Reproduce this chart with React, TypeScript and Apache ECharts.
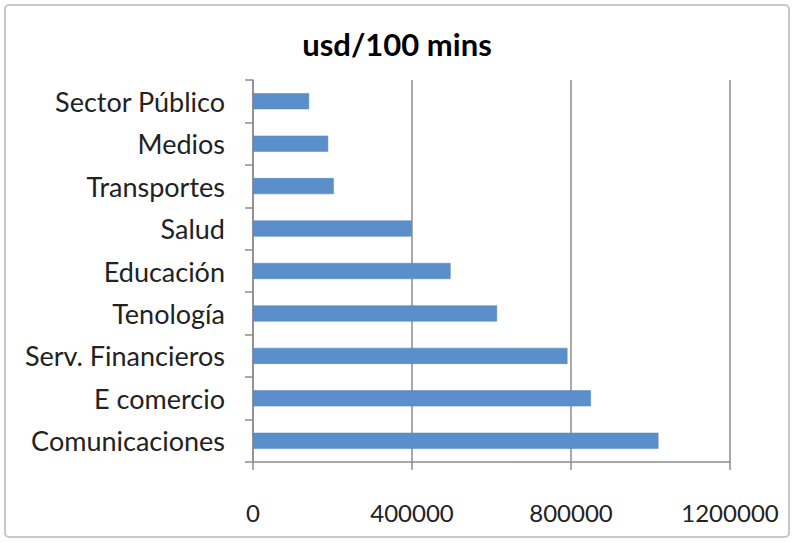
import React, { useEffect, useRef } from "react";
import * as echarts from "echarts";

const categories = [
  "Comunicaciones",
  "E comercio",
  "Serv. Financieros",
  "Tenología",
  "Educación",
  "Salud",
  "Transportes",
  "Medios",
  "Sector Público",
];
const values = [1020000, 850000, 791000, 614000, 497000, 399000, 203000, 189000, 141000];
const xTicks = [0, 400000, 800000, 1200000];
const title = "usd/100 mins";

export default function App() {
  const ref = useRef<HTMLDivElement>(null);
  useEffect(() => {
    if (!ref.current) return;
    const chart = echarts.init(ref.current, undefined, { renderer: "svg" });
    const font = "Lato";
    chart.setOption({
      animation: false,
      backgroundColor: "#ffffff",
      title: {
        text: title,
        left: "center",
        top: 23,
        textStyle: { fontFamily: font, fontSize: 31, fontWeight: "bold", color: "#000" },
      },
      graphic: [
        {
          type: "rect",
          shape: { x: 5, y: 5, width: 784, height: 532, r: 4 },
          style: { fill: "none", stroke: "#c8c8c8", lineWidth: 2 },
          silent: true,
        },
      ],
      grid: { left: 253, right: 64, top: 80, bottom: 81 },
      xAxis: {
        type: "value",
        min: xTicks[0],
        max: xTicks[xTicks.length - 1],
        interval: 400000,
        axisLine: { show: true, lineStyle: { color: "#8c8c8c", width: 1.5 } },
        axisTick: { show: true, length: 8, lineStyle: { color: "#8c8c8c", width: 1.5 } },
        splitLine: { show: true, lineStyle: { color: "#8c8c8c", width: 1.5 } },
        axisLabel: {
          fontFamily: font,
          fontSize: 24,
          color: "#222",
          margin: 38,
          formatter: (v: number) => String(v),
        },
      },
      yAxis: {
        type: "category",
        data: categories,
        axisLine: { show: true, lineStyle: { color: "#8c8c8c", width: 1.5 } },
        axisTick: { show: true, length: 8, alignWithLabel: false, lineStyle: { color: "#8c8c8c", width: 1.5 } },
        axisLabel: { fontFamily: font, fontSize: 27, color: "#222", margin: 28, padding: [4, 0, 0, 0] },
      },
      series: [
        {
          type: "bar",
          data: values,
          barWidth: 16,
          itemStyle: { color: "#5b8fcb", borderColor: "#4f81bd", borderWidth: 0.5 },
        },
      ],
    });
    return () => chart.dispose();
  }, []);
  return <div ref={ref} style={{ width: 794, height: 543, position: "absolute", left: 0, top: 0 }} />;
}
